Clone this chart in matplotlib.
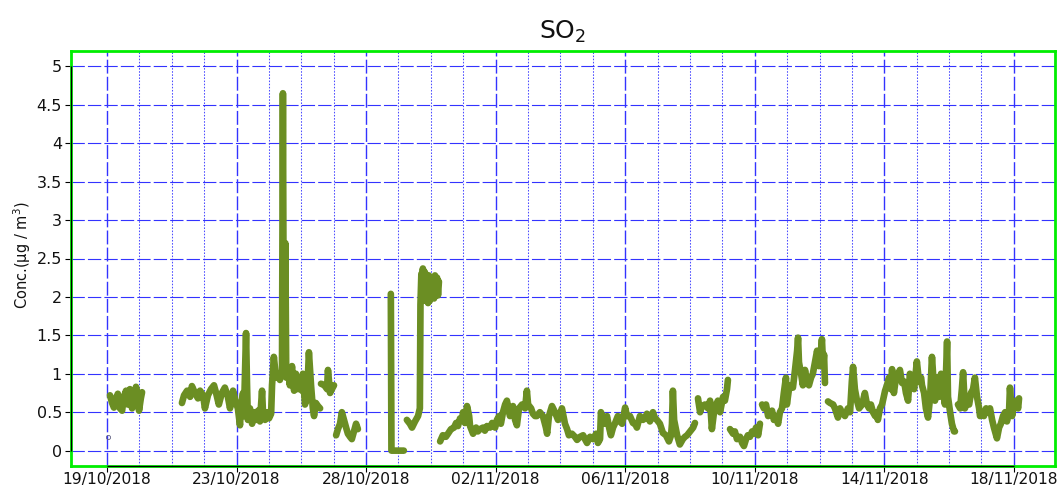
import numpy as np
import matplotlib
matplotlib.use("Agg")
import matplotlib.pyplot as plt
from matplotlib.ticker import FixedLocator

nan = np.nan

# ---- data: days since 19/10/2018 00:00, SO2 concentration (ug/m3); NaN = gap ----
day = [
    1.0e-9,
    nan,
    0.10, 0.17, 0.23, 0.30, 0.36, 0.43, 0.50, 0.56, 0.63, 0.69, 0.76, 0.83, 0.89, 0.96, 1.03, 1.06, 1.12, 1.16,
    nan,
    2.48, 2.55, 2.65, 2.75, 2.81, 2.91, 3.01, 3.08, 3.18, 3.24, 3.34, 3.44, 3.54, 3.61, 3.70, 3.80, 3.90, 4.00,
    4.07, 4.17, 4.27, 4.33, 4.40, 4.43, 4.50, 4.53, 4.60, 4.63, 4.66, 4.73, 4.80, 4.86, 4.93, 5.00, 5.06, 5.13,
    5.16, 5.23, 5.29, 5.36, 5.43, 5.46, 5.52, 5.59, 5.66, 5.72, 5.79, 5.82, 5.85, 5.90, 5.93, 5.99, 6.05, 6.12,
    6.19, 6.25, 6.32, 6.38, 6.45, 6.48, 6.55, 6.62, 6.68, 6.75, 6.81, 6.85, 6.91, 6.98, 7.05,
    nan,
    7.08, 7.15, 7.21, 7.28, 7.31, 7.38, 7.44, 7.51,
    nan,
    7.58, 7.64, 7.71, 7.77, 7.84, 7.91, 7.97, 8.04, 8.10, 8.17, 8.24, 8.30,
    nan,
    9.39, 9.41, 9.82,
    nan,
    9.92, 10.02, 10.09, 10.19, 10.29, 10.35, 10.37, 10.40, 10.43, 10.45, 10.48, 10.52, 10.55, 10.59, 10.62,
    10.65, 10.68, 10.71, 10.75, 10.78, 10.82, 10.85, 10.88, 10.92, 10.95, 10.98,
    nan,
    11.02, 11.11, 11.21, 11.28, 11.38, 11.48, 11.55, 11.61, 11.68, 11.74, 11.78, 11.84, 11.91, 11.98, 12.01,
    12.11, 12.21, 12.27, 12.34, 12.44, 12.50, 12.57, 12.67, 12.74, 12.84, 12.90, 12.97, 13.03, 13.10, 13.17,
    13.23, 13.33, 13.43, 13.50, 13.56, 13.63, 13.73, 13.83, 13.89, 13.93, 14.03, 14.09, 14.16, 14.22, 14.32,
    14.42, 14.52, 14.56, 14.62, 14.72, 14.82, 14.92, 15.05, 15.15, 15.22, 15.28, 15.38, 15.48, 15.55, 15.65,
    15.75, 15.81, 15.88, 15.98, 16.08, 16.18, 16.21, 16.24, 16.31, 16.34, 16.41, 16.47, 16.54, 16.61, 16.67,
    16.74, 16.80, 16.90, 16.97, 17.04, 17.14, 17.20, 17.30, 17.40, 17.47, 17.53, 17.63, 17.73, 17.80, 17.86,
    17.96, 18.06, 18.13, 18.19, 18.29, 18.39, 18.49, 18.59, 18.66, 18.69, 18.72, 18.76, 18.86, 18.95, 19.05,
    19.12, 19.19, 19.29, 19.39, 19.45,
    nan,
    19.55, 19.62, 19.68, 19.78, 19.88, 19.95, 20.01, 20.08, 20.15, 20.21, 20.28, 20.38, 20.44, 20.51, 20.54,
    nan,
    20.61, 20.71, 20.77, 20.84, 20.94, 21.01, 21.07, 21.14, 21.20, 21.27, 21.34, 21.40, 21.47, 21.54, 21.60,
    nan,
    21.67, 21.73, 21.80, 21.87, 21.93, 22.00, 22.06, 22.13, 22.20, 22.26, 22.33, 22.39, 22.46, 22.49, 22.56,
    22.63, 22.69, 22.76, 22.83, 22.86, 22.89, 22.96, 23.02, 23.09, 23.16, 23.22, 23.29, 23.35, 23.42, 23.49,
    23.55, 23.62, 23.65, 23.69, 23.72, 23.75,
    nan,
    23.85, 23.92, 24.02, 24.08, 24.18, 24.25, 24.31, 24.41, 24.51, 24.58, 24.64, 24.68, 24.74, 24.81, 24.88,
    24.98, 25.07, 25.14, 25.21, 25.27, 25.34, 25.41, 25.47, 25.50, 25.57, 25.64, 25.74, 25.80, 25.87, 25.93,
    25.97, 26.03, 26.10, 26.17, 26.23, 26.30, 26.37, 26.43, 26.50, 26.56, 26.63, 26.70, 26.79, 26.86, 26.93,
    26.96, 27.03, 27.09, 27.16, 27.23, 27.29, 27.36, 27.39, 27.46, 27.52, 27.59, 27.66, 27.72, 27.79, 27.82,
    27.89, 27.95, 28.02, 28.05,
    nan,
    28.15, 28.22, 28.28, 28.32, 28.38, 28.45, 28.52, 28.58, 28.65, 28.71, 28.78, 28.85, 28.88, 28.95, 29.01,
    29.08, 29.14, 29.21, 29.28, 29.34, 29.41, 29.44, 29.51, 29.57, 29.64, 29.71, 29.77, 29.84, 29.87, 29.94,
    30.00, 30.07, 30.14, 30.17,
]

conc = [
    nan,
    nan,
    0.72, 0.62, 0.56, 0.68, 0.74, 0.55, 0.52, 0.70, 0.78, 0.60, 0.80, 0.55, 0.62, 0.83, 0.70, 0.52, 0.68, 0.76,
    nan,
    0.62, 0.72, 0.78, 0.70, 0.84, 0.75, 0.68, 0.78, 0.72, 0.55, 0.72, 0.80, 0.85, 0.75, 0.60, 0.75, 0.82, 0.70,
    0.55, 0.78, 0.62, 0.55, 0.33, 0.55, 0.75, 0.45, 1.53, 0.90, 0.40, 0.55, 0.35, 0.50, 0.40, 0.52, 0.38, 0.78,
    0.50, 0.40, 0.50, 0.42, 0.48, 0.85, 1.22, 0.95, 1.00, 0.92, 1.05, 4.65, 1.00, 2.70, 0.95, 1.05, 0.85, 1.10,
    0.78, 1.00, 0.80, 0.95, 0.78, 1.00, 0.60, 0.70, 1.28, 0.85, 0.55, 0.45, 0.62, 0.58, 0.55,
    nan,
    0.87, 0.86, 0.84, 0.80, 1.05, 0.75, 0.80, 0.85,
    nan,
    0.20, 0.28, 0.35, 0.50, 0.40, 0.30, 0.22, 0.18, 0.15, 0.25, 0.35, 0.28,
    nan,
    2.04, 0.00, 0.00,
    nan,
    0.40, 0.35, 0.30, 0.38, 0.45, 0.55, 1.90, 2.30, 2.00, 2.37, 1.95, 2.32, 2.00, 2.25, 1.92,
    2.28, 1.95, 2.20, 2.00, 2.25, 1.98, 2.28, 2.05, 2.25, 2.02, 2.20,
    nan,
    0.12, 0.20, 0.18, 0.22, 0.28, 0.30, 0.36, 0.32, 0.42, 0.40, 0.50, 0.36, 0.58, 0.45, 0.32,
    0.22, 0.30, 0.25, 0.28, 0.30, 0.26, 0.32, 0.30, 0.36, 0.30, 0.40, 0.45, 0.35, 0.50, 0.60,
    0.65, 0.45, 0.58, 0.40, 0.33, 0.55, 0.60, 0.55, 0.78, 0.60, 0.55, 0.48, 0.45, 0.45, 0.50,
    0.45, 0.30, 0.22, 0.45, 0.58, 0.50, 0.40, 0.55, 0.35, 0.28, 0.20, 0.22, 0.18, 0.14, 0.18,
    0.20, 0.15, 0.10, 0.18, 0.15, 0.22, 0.20, 0.10, 0.15, 0.50, 0.40, 0.35, 0.45, 0.30, 0.20,
    0.30, 0.35, 0.45, 0.38, 0.35, 0.56, 0.45, 0.45, 0.36, 0.35, 0.30, 0.45, 0.40, 0.42, 0.48,
    0.38, 0.50, 0.42, 0.40, 0.35, 0.23, 0.20, 0.12, 0.20, 0.35, 0.78, 0.40, 0.20, 0.08, 0.15,
    0.18, 0.20, 0.25, 0.30, 0.36,
    nan,
    0.68, 0.50, 0.58, 0.60, 0.55, 0.65, 0.28, 0.50, 0.60, 0.65, 0.50, 0.70, 0.65, 0.80, 0.92,
    nan,
    0.28, 0.22, 0.25, 0.15, 0.18, 0.10, 0.06, 0.15, 0.20, 0.18, 0.25, 0.22, 0.30, 0.20, 0.35,
    nan,
    0.60, 0.55, 0.60, 0.45, 0.50, 0.52, 0.40, 0.45, 0.35, 0.50, 0.55, 0.75, 0.95, 0.60, 0.80,
    0.85, 0.82, 1.05, 1.30, 1.47, 1.15, 1.00, 0.85, 1.05, 0.90, 0.85, 0.95, 1.00, 1.15, 1.30,
    1.10, 1.30, 1.45, 1.10, 1.25, 0.88,
    nan,
    0.64, 0.62, 0.60, 0.55, 0.43, 0.55, 0.50, 0.45, 0.55, 0.50, 0.90, 1.09, 0.80, 0.65, 0.55,
    0.60, 0.75, 0.60, 0.55, 0.60, 0.50, 0.45, 0.50, 0.40, 0.55, 0.60, 0.78, 0.85, 0.95, 0.80,
    1.06, 0.75, 0.95, 1.00, 1.05, 0.88, 0.90, 0.75, 0.65, 1.00, 0.85, 0.80, 1.16, 0.90, 0.95,
    0.85, 0.75, 0.55, 0.43, 0.70, 1.22, 0.80, 0.65, 0.95, 0.70, 1.00, 0.75, 0.60, 1.42, 0.70,
    0.50, 0.35, 0.25, 0.25,
    nan,
    0.60, 0.55, 0.80, 1.02, 0.55, 0.65, 0.60, 0.75, 0.80, 0.95, 0.70, 0.55, 0.45, 0.50, 0.45,
    0.55, 0.50, 0.55, 0.40, 0.30, 0.20, 0.16, 0.30, 0.35, 0.45, 0.50, 0.38, 0.50, 0.82, 0.45,
    0.60, 0.65, 0.55, 0.68,
]

# isolated single reading at the very start
single_day = [0.03]
single_conc = [0.18]

tick_labels = ["19/10/2018", "23/10/2018", "28/10/2018", "02/11/2018",
               "06/11/2018", "10/11/2018", "14/11/2018", "18/11/2018"]
y_ticks = [0, 0.5, 1, 1.5, 2, 2.5, 3, 3.5, 4, 4.5, 5]
y_tick_labels = ["0", "0.5", "1", "1.5", "2", "2.5", "3", "3.5", "4", "4.5", "5"]

# ---- figure ----
plt.rcParams['font.family'] = ['DejaVu Sans']
plt.rcParams['mathtext.default'] = 'regular'

W, H = 1063, 487
fig = plt.figure(figsize=(W / 100, H / 100), dpi=100)
ax = fig.add_axes([71 / W, 21 / H, 984 / W, 415 / H])

span = 30.0
step = span / 7
x_major = [i * step for i in range(8)]
x_minor = [i * step / 4 for i in range(29) if i % 4 != 0]

xmin, xmax = -1.19, 31.36
ymin, ymax = -0.2, 5.2
ax.set_xlim(xmin, xmax)
ax.set_ylim(ymin, ymax)

ax.xaxis.set_major_locator(FixedLocator(x_major))
ax.xaxis.set_minor_locator(FixedLocator(x_minor))
ax.set_xticklabels(tick_labels, fontsize=11.2)
ax.set_yticks(y_ticks)
ax.set_yticklabels(y_tick_labels, fontsize=11.5)

ax.tick_params(axis='both', which='major', direction='out', length=4, width=0.8,
               color='black', labelcolor='#111111')
ax.tick_params(axis='x', which='major', pad=0.5)
ax.tick_params(axis='y', which='major', pad=2.5)
ax.tick_params(axis='x', which='minor', length=0)

grid_col = (0.2, 0.2, 1.0, 0.95)
minor_col = (0.3, 0.3, 1.0, 0.85)
ax.xaxis.grid(True, which='major', color=grid_col, linewidth=1.0, linestyle=(0, (10, 2.3)))
ax.xaxis.grid(True, which='minor', color=minor_col, linewidth=0.75, linestyle=(0, (1.5, 1.5)))
ax.yaxis.grid(True, which='major', color=grid_col, linewidth=0.8, linestyle=(0, (12, 2.8)))
ax.set_axisbelow(True)

for s in ax.spines.values():
    s.set_color('#00ee00')
    s.set_linewidth(2.0)

# black axis lines spanning tick range (drawn over the green box)
ax.plot([x_major[0], x_major[-1]], [ymin, ymin], color='black', lw=0.9,
        clip_on=False, zorder=6, solid_capstyle='butt')
ax.plot([xmin, xmin], [y_ticks[0], y_ticks[-1]], color='black', lw=0.9,
        clip_on=False, zorder=6, solid_capstyle='butt')

# data
ax.plot(day, conc, color='#6b8e23', lw=4.8, solid_capstyle='round',
        solid_joinstyle='round', zorder=3)
ax.plot(single_day, single_conc, linestyle='none', marker='o', markersize=3,
        markerfacecolor='none', markeredgecolor='#606080', markeredgewidth=0.6, zorder=3)

ax.set_title('SO$_2$', fontsize=18, pad=9, color='#111111')
fig.text(22 / W, 1 - 255 / H, 'Conc.(μg / m$^3$)', rotation=90, ha='center', va='center',
         fontsize=10.5, color='#111111')

fig.savefig('out.png', dpi=100)
